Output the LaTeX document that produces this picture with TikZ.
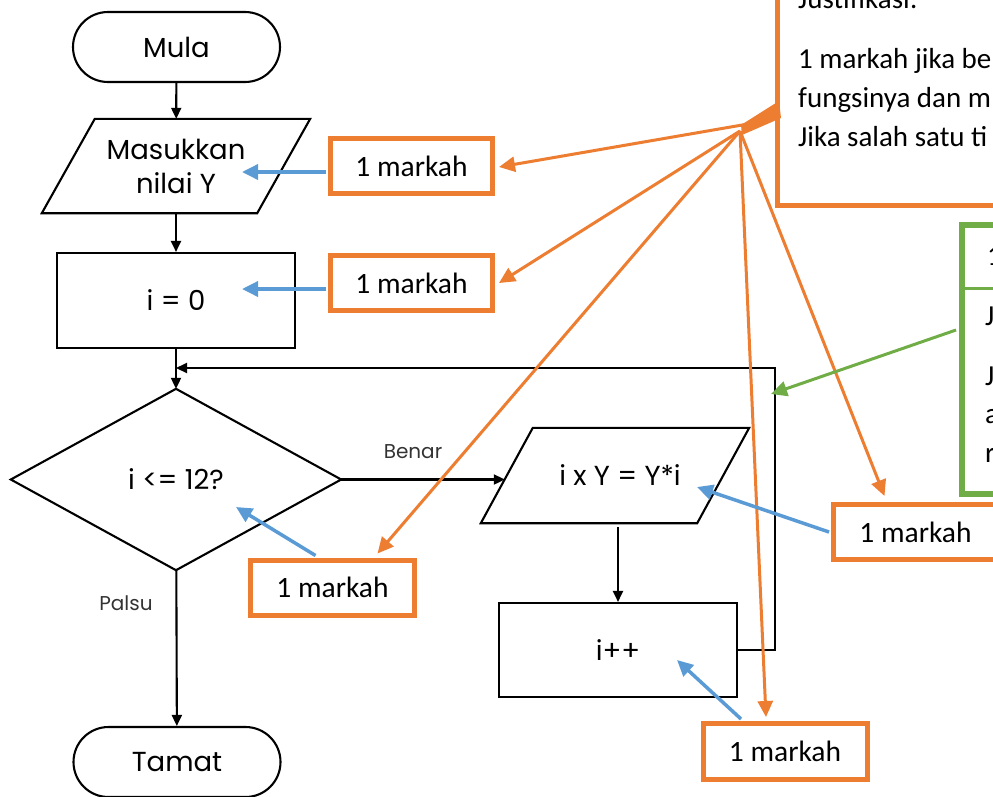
\documentclass[tikz,border=0pt]{standalone}
\usepackage{fontspec}
\setmainfont{Carlito}
\newfontfamily\cgfont{Poppins}
\usetikzlibrary{arrows.meta,shapes.misc,calc}
\definecolor{org}{HTML}{ED7D31}
\definecolor{blu}{HTML}{5B9BD5}
\definecolor{grn}{HTML}{70AD47}
\begin{document}
\begin{tikzpicture}[x=1pt,y=-1pt,
  fl/.style={font=\cgfont\fontsize{27.5}{34}\selectfont, align=center, inner sep=0pt},
  term/.style={fl, rounded rectangle, draw, line width=2.1pt, minimum width=207pt, minimum height=70pt},
  proc/.style={fl, rectangle, draw, line width=2.1pt},
  ghost/.style={fl, rectangle, draw=none},
  shp/.style={line width=2.1pt, line join=miter},
  blk/.style={line width=2.1pt, -{Triangle[length=11pt,width=10pt]}},
  mk/.style={draw=org, line width=5pt, rectangle, font=\fontsize{29.5}{34}\selectfont, inner sep=0pt, minimum height=55pt},
  oarr/.style={draw=org, line width=3pt, -{Triangle[length=16pt,width=15pt]}},
  barr/.style={draw=blu, line width=3.5pt, -{Triangle[length=16pt,width=15pt]}},
  garr/.style={draw=grn, line width=3pt, -{Triangle[length=16pt,width=15pt]}},
  lbl/.style={font=\cgfont\fontsize{20}{24}\selectfont, text=black!80, inner sep=0pt},
  ctext/.style={font=\fontsize{29}{34}\selectfont, anchor=base west, inner sep=0pt},
]
\useasboundingbox (0,0) rectangle (993,796);
\clip (0,0) rectangle (993,796);

% flowchart
\node[term] (mula) at (176.5,47) {Mula};
\node[ghost, minimum width=215pt, minimum height=94pt] (inp) at (176,166) {Masukkan\\nilai Y};
\draw[shp] ($(inp.north west)+(26.5,0)$) -- ($(inp.north east)+(26.5,0)$) -- ($(inp.south east)+(-26.5,0)$) -- ($(inp.south west)+(-26.5,0)$) -- cycle;
\node[proc, minimum width=238pt, minimum height=95pt] (init) at (176,300.5) {i = 0};
\node[ghost, minimum width=330pt, minimum height=181pt] (dec) at (176,479.5) {i <= 12?};
\draw[shp] (dec.north) -- (dec.east) -- (dec.south) -- (dec.west) -- cycle;
\node[ghost, minimum width=216pt, minimum height=95pt] (mul) at (615,475.5) {\hspace*{10pt}i x Y = Y*i};
\draw[shp] ($(mul.north west)+(26,0)$) -- ($(mul.north east)+(26,0)$) -- ($(mul.south east)+(-26,0)$) -- ($(mul.south west)+(-26,0)$) -- cycle;
\node[proc, minimum width=238pt, minimum height=94pt] (inc) at (618,650) {i++};
\node[term] (tamat) at (177,762) {Tamat};

\draw[blk] (mula) -- (inp);
\draw[blk] (inp) -- (init);
\draw[blk] (init) -- (dec);
\draw[blk] (dec) -- (tamat);
\draw[blk] (dec.east) -- ($(dec.east -| mul.west)+(-2,0)$);
\draw[blk] ($(inc.north |- mul.south)+(0,4)$) -- (inc.north);
\coordinate (lp) at (775,368);
\draw[blk] (inc.east) -| (lp) -- (lp -| init.south);

\node[lbl] (benar) at (413,452) {Benar};
\node[lbl] (palsu) at (126,603) {Palsu};

% mark boxes
\node[mk, minimum width=162pt] (m1) at (411.5,166) {1 markah};
\node[mk, minimum width=162pt] (m2) at (411.5,283) {1 markah};
\node[mk, minimum width=164pt] (m3) at (332.5,587.5) {1 markah};
\node[mk, minimum width=164pt] (m4) at (915.5,532) {1 markah};
\node[mk, minimum width=164pt, minimum height=56pt] (m5) at (785,751.5) {1 markah};

% callout
\node[draw=org, line width=5pt, minimum width=245pt, minimum height=226pt, inner sep=0pt] (cb) at (900,92.5) {};
\fill[org] (779,101) -- (781,118) -- (742,135) -- (741,125) -- cycle;
\node[ctext] (j0) at (798,8) {Justifikasi:};
\node[ctext] (j1) at (798,68) {1 markah jika be};
\node[ctext] (j2) at (798,107) {fungsinya dan m};
\node[ctext] (j3) at (798,146) {Jika salah satu ti};

% green box
\node[draw=grn, line width=6pt, minimum width=60pt, minimum height=269pt, inner sep=0pt] (gb) at (992,359.5) {};
\coordinate (gl) at (962,288);
\draw[grn, line width=3pt] (gl) -- (gl -| gb.east);
\node[ctext] (g1) at (987,265) {1};
\node[ctext] (g2) at (985,325) {J};
\node[ctext] (g3) at (985,385) {J};
\node[ctext] (g4) at (985,423) {a};
\node[ctext] (g5) at (985,462) {r};

% orange fan
\coordinate (fa) at (748,124);
\coordinate (fb) at (740,131);
\draw[oarr] (fa) -- ($(m1.east)+(4,1)$);
\draw[oarr] (fb) -- ($(m2.east)+(4,0)$);
\draw[oarr] (fb) -- ($(m3.north)+(45,-4)$);
\draw[oarr] (fb) -- ($(m4.north)+(-31,-6)$);
\draw[oarr] (fb) -- ($(m5.north)+(-19,-4)$);

% blue arrows
\coordinate (t1) at (242,172);
\coordinate (t2) at (242,289);
\coordinate (t3) at (236,507);
\coordinate (t4) at (697,487);
\coordinate (t5) at (677,660);
\draw[barr] ($(m1.west)+(-2,6)$) -- (t1);
\draw[barr] ($(m2.west)+(-2,6)$) -- (t2);
\draw[barr] ($(m3.north)+(-17,-2)$) -- (t3);
\draw[barr] ($(m4.west)+(-2,0)$) -- (t4);
\draw[barr] ($(m5.north)+(-44,-2)$) -- (t5);

% green arrow
\coordinate (t6) at (771,394);
\draw[garr] ($(gb.west)+(-3,-29.5)$) -- (t6);
\end{tikzpicture}
\end{document}
